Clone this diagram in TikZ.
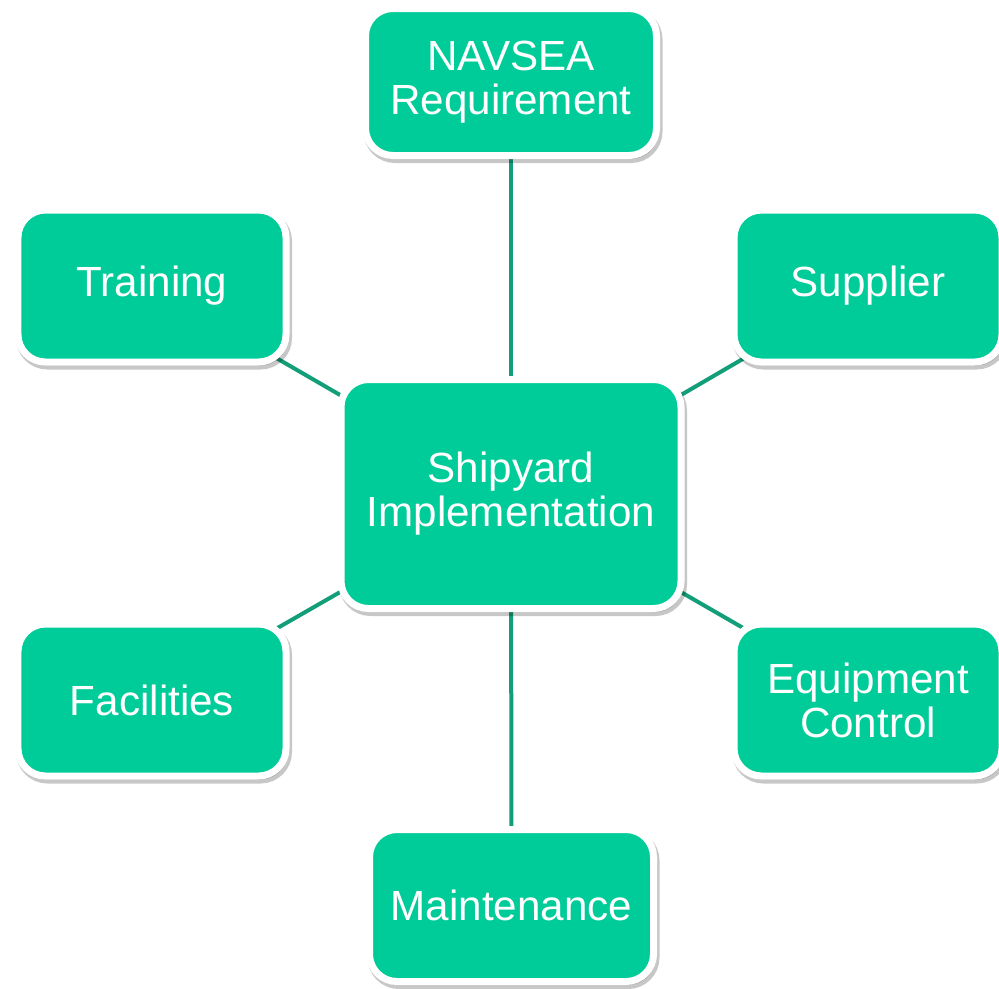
\documentclass[tikz,border=0pt]{standalone}
\usepackage{fontspec}
\setmainfont{Liberation Sans}
\usepackage{tikz}
\usetikzlibrary{positioning, backgrounds, shadows}
\definecolor{mint}{HTML}{00CC99}
\definecolor{linkgreen}{HTML}{129E78}
\begin{document}
\begin{tikzpicture}[
    topic/.style={draw=white, line width=0.14cm, fill=mint, rounded corners=0.55cm,
                  text=white, align=center, inner sep=0pt,
                  font=\fontsize{24}{25}\selectfont,
                  drop shadow={shadow xshift=0.04cm, shadow yshift=-0.07cm, opacity=0.22,
                               fill=black, draw=black, line width=0.16cm}},
    leaf/.style={topic, minimum width=5.36cm, minimum height=3.04cm},
    core/.style={topic, minimum width=6.8cm, minimum height=4.58cm},
    link/.style={draw=linkgreen, line width=0.08cm},
]
\useasboundingbox (0,0) rectangle (19.98,-19.76);
% ----- the hub and the six topics round it
\node[core] (yard) at (10.22,-9.88) {Shipyard\\Implementation};
\node[topic, minimum width=5.82cm, minimum height=2.94cm] (navsea) at (10.22,-1.64) {NAVSEA\\Requirement};
\node[leaf] (train) at (3.04,-5.72) {Training};
\node[leaf] (supply) at (17.36,-5.72) {Supplier};
\node[leaf] (facil) at (3.04,-14.0) {Facilities};
\node[leaf] (equip) at (17.36,-14.0) {Equipment\\Control};
\node[topic, minimum width=5.68cm, minimum height=3.04cm] (maint) at (10.23,-18.11) {Maintenance};
% ----- spokes, behind the boxes
\begin{scope}[on background layer]
\foreach \t in {navsea,train,supply,facil,equip,maint} { \draw[link] (yard.center) -- (\t.center); }
\end{scope}
\end{tikzpicture}
\end{document}
